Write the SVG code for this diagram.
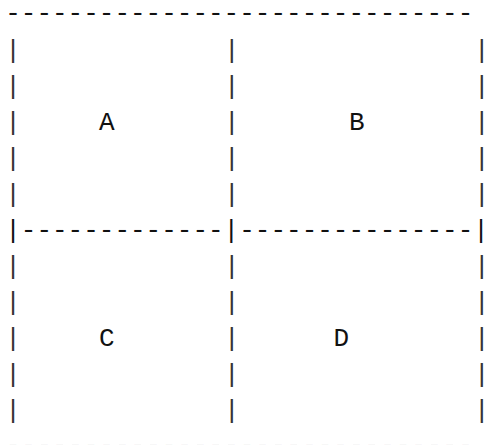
<svg xmlns="http://www.w3.org/2000/svg" width="485" height="445" viewBox="0 0 485 445">
<style>
text { font-family: "Liberation Mono", "Courier New", monospace; font-size: 26px; fill: #111; white-space: pre; }
.bar { fill: #333; }
</style>
<rect width="485" height="445" fill="#fff"/>
<g id="frame">
<text x="5.2" y="21" xml:space="preserve">------------------------------</text>
<text x="5.2" y="237.5" xml:space="preserve">|-------------|---------------|</text>
<text x="5.2" y="452.5" xml:space="preserve">------------------------------</text>
<text class="bar"><tspan x="5.2" y="57.5">|</tspan><tspan x="5.2" y="93.5">|</tspan><tspan x="5.2" y="129.5">|</tspan><tspan x="5.2" y="165.5">|</tspan><tspan x="5.2" y="201.5">|</tspan><tspan x="5.2" y="273.5">|</tspan><tspan x="5.2" y="309.5">|</tspan><tspan x="5.2" y="345.5">|</tspan><tspan x="5.2" y="381.5">|</tspan><tspan x="5.2" y="417.5">|</tspan></text>
<text class="bar"><tspan x="224" y="57.5">|</tspan><tspan x="224" y="93.5">|</tspan><tspan x="224" y="129.5">|</tspan><tspan x="224" y="165.5">|</tspan><tspan x="224" y="201.5">|</tspan><tspan x="224" y="273.5">|</tspan><tspan x="224" y="309.5">|</tspan><tspan x="224" y="345.5">|</tspan><tspan x="224" y="381.5">|</tspan><tspan x="224" y="417.5">|</tspan></text>
<text class="bar"><tspan x="474.1" y="57.5">|</tspan><tspan x="474.1" y="93.5">|</tspan><tspan x="474.1" y="129.5">|</tspan><tspan x="474.1" y="165.5">|</tspan><tspan x="474.1" y="201.5">|</tspan><tspan x="474.1" y="273.5">|</tspan><tspan x="474.1" y="309.5">|</tspan><tspan x="474.1" y="345.5">|</tspan><tspan x="474.1" y="381.5">|</tspan><tspan x="474.1" y="417.5">|</tspan></text>
</g>
<g id="A"><text x="99" y="130">A</text></g>
<g id="B"><text x="349" y="130">B</text></g>
<g id="C"><text x="99" y="346">C</text></g>
<g id="D"><text x="333.4" y="346">D</text></g>
</svg>
